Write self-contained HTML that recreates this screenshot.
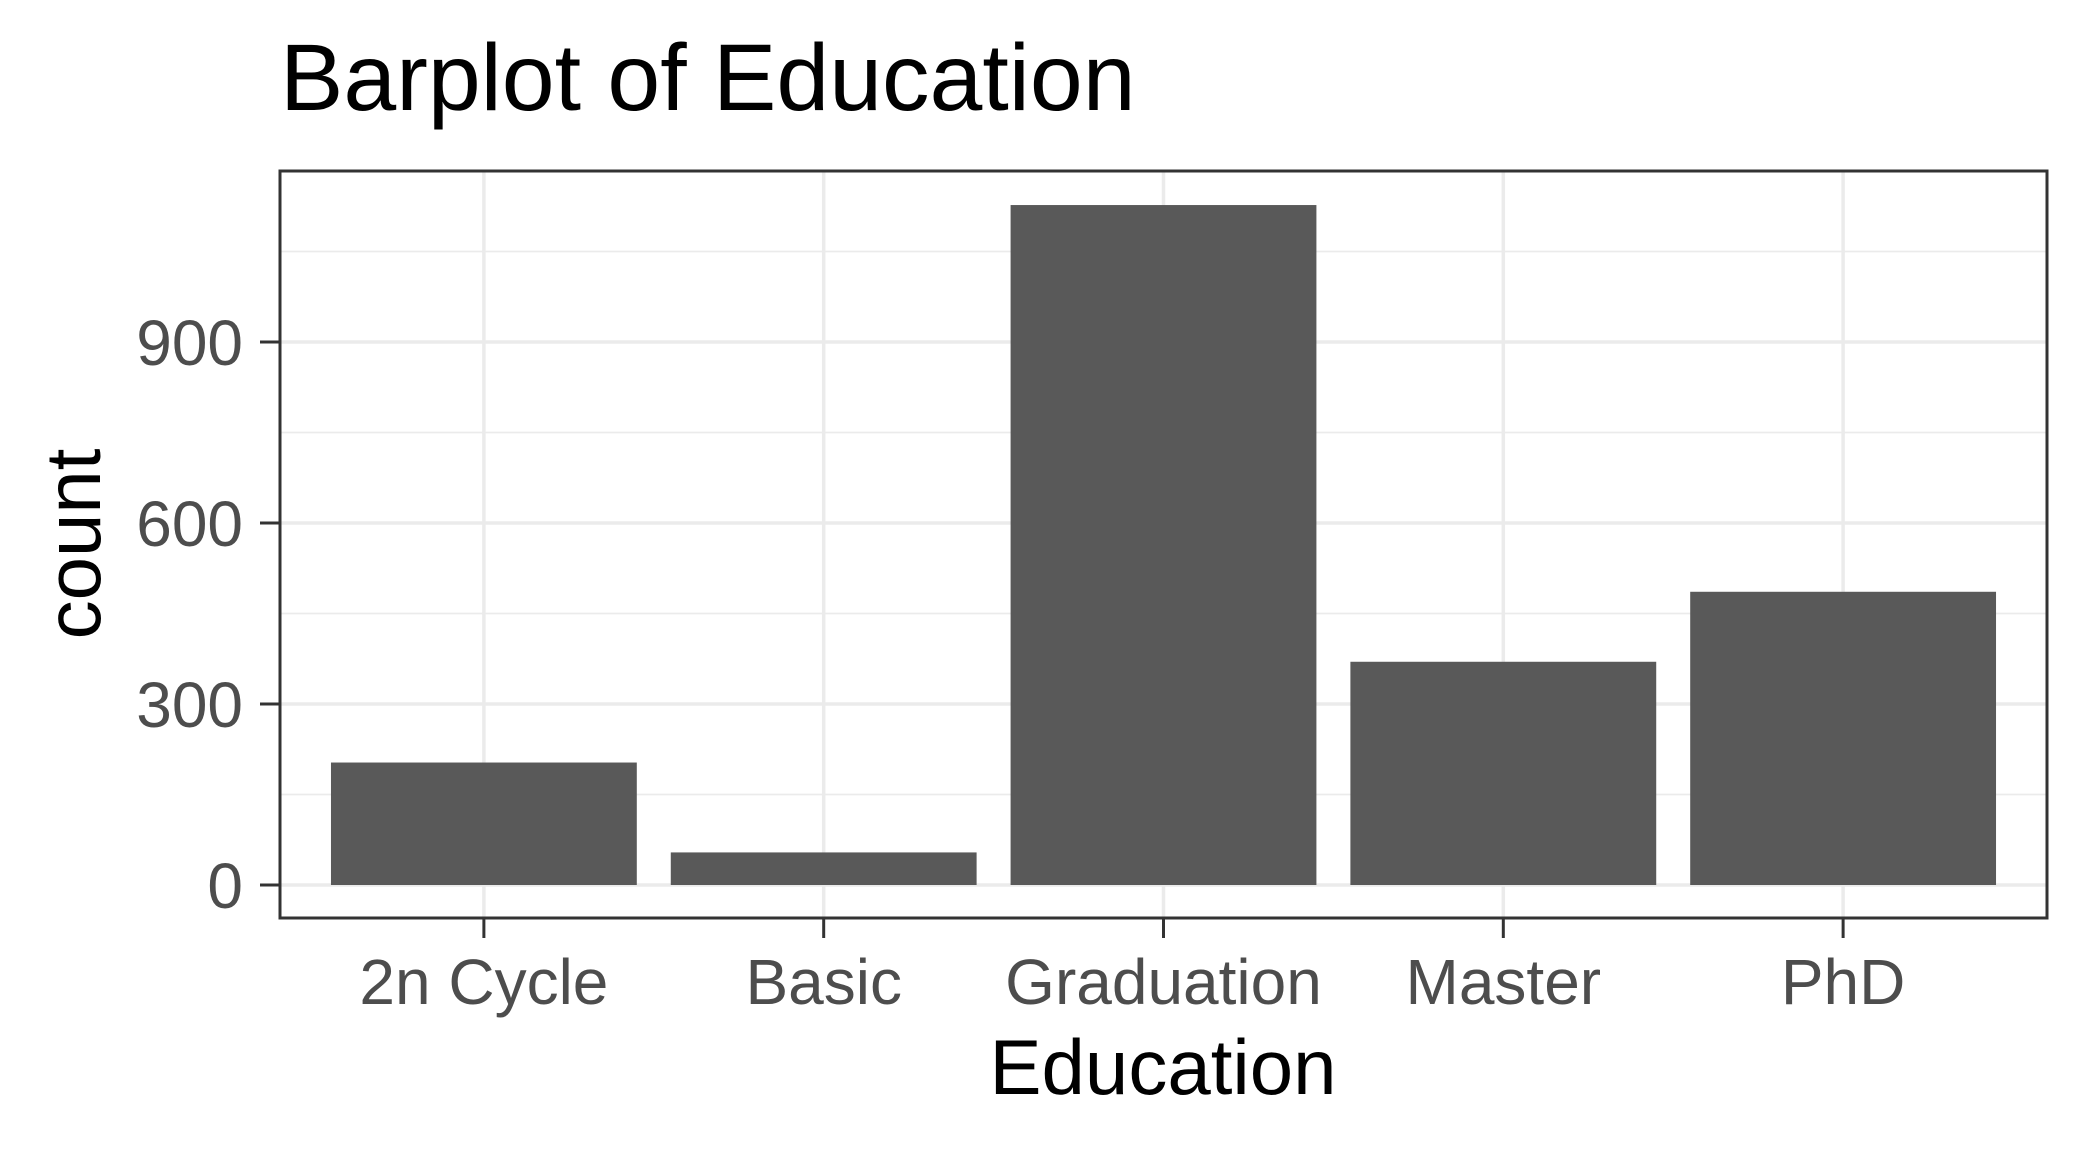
<!DOCTYPE html>
<html><head><meta charset="utf-8"><style>
html,body{margin:0;padding:0;background:#fff;}
svg{display:block;font-family:"Liberation Sans",Arial,sans-serif;}
</style></head><body>
<svg id="chart" width="2088" height="1152" viewBox="0 0 2088 1152">
<rect width="2088" height="1152" fill="#fff"/>
<text x="280" y="110" font-size="95" fill="#000">Barplot of Education</text>
<g id="grid"></g>
<g id="bars"></g>
<rect x="280" y="171" width="1767" height="747" fill="none" stroke="#333" stroke-width="3"/>
<g id="axes"></g>
<text x="1163" y="1094" font-size="78" text-anchor="middle" fill="#000">Education</text>
<text transform="translate(100,544) rotate(-90)" font-size="78" text-anchor="middle" fill="#000">count</text>
</svg>
<script>
const categories = ["2n Cycle","Basic","Graduation","Master","PhD"];
const counts = [203, 54, 1127, 370, 486];
const yTicks = [0, 300, 600, 900];
const yMinor = [150, 450, 750, 1050];

const NS = "http://www.w3.org/2000/svg";
const L = 280, R = 2047, T = 171, B = 918;
const y0 = 885, yPerUnit = (885 - 342) / 900;
const unit = (R - L) / (categories.length - 1 + 1.2);
function yScale(v){ return y0 - v * yPerUnit; }
function xCenter(i){ return L + unit * (0.6 + i); }
function mk(tag, attrs){ const e = document.createElementNS(NS, tag); for (const k in attrs) e.setAttribute(k, attrs[k]); return e; }

const grid = document.getElementById('grid');
yMinor.forEach(v => {
  const ln = mk('line', {x1:L, x2:R, y1:yScale(v), y2:yScale(v), stroke:'#ebebeb', 'stroke-width':1.8});
  
  
  grid.appendChild(ln);
});
yTicks.forEach(v => {
  const ln = mk('line', {x1:L, x2:R, y1:yScale(v), y2:yScale(v), stroke:'#ebebeb', 'stroke-width':3.5});
  
  
  grid.appendChild(ln);
});
categories.forEach((c, i) => {
  const ln = mk('line', {x1:xCenter(i), x2:xCenter(i), y1:T, y2:B, stroke:'#ebebeb', 'stroke-width':3.5});
  
  
  grid.appendChild(ln);
});

const bars = document.getElementById('bars');
const bw = unit * 0.9;
categories.forEach((c, i) => {
  const top = yScale(counts[i]);
  const r = mk('rect', {x:xCenter(i) - bw/2, y:top, width:bw, height:y0 - top, fill:'#595959'});
  
  
  bars.appendChild(r);
});

const axes = document.getElementById('axes');
yTicks.forEach(v => {
  const t = mk('line', {x1:L - 20, x2:L, y1:yScale(v), y2:yScale(v), stroke:'#333', 'stroke-width':3});
  
  
  axes.appendChild(t);
  const lb = mk('text', {x:L - 37, y:yScale(v) + 23, 'font-size':64, 'text-anchor':'end', fill:'#4d4d4d'});
  lb.textContent = String(v);
  
  
  axes.appendChild(lb);
});
categories.forEach((c, i) => {
  const t = mk('line', {x1:xCenter(i), x2:xCenter(i), y1:B, y2:B + 20, stroke:'#333', 'stroke-width':3});
  
  
  axes.appendChild(t);
  const lb = mk('text', {x:xCenter(i), y:1004, 'font-size':64, 'text-anchor':'middle', fill:'#4d4d4d'});
  lb.textContent = c;
  
  
  axes.appendChild(lb);
});
</script>
</body></html>
